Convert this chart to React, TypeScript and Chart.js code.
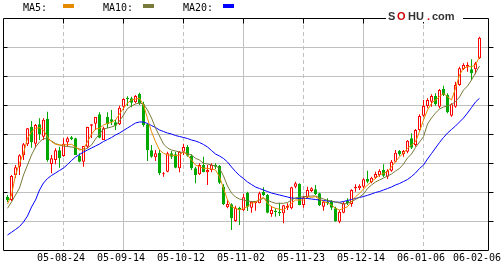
import React, { useEffect, useRef } from "react";
import { Chart, registerables } from "chart.js";

Chart.register(...registerables);

// ---- data (price units; chart shows no numeric axis) ----
const OPEN = [
  5.33, 5.0, 7.5, 8.33, 9.5, 10.57, 12.33, 10.63, 12.57, 11.33,
  13.1, 8.6, 9.0, 9.97, 9.4, 10.77, 11.27, 11.17, 9.4, 8.83,
  10.33, 12.43, 12.63, 13.57, 11.0, 13.3, 13.07, 12.77, 12.57, 14.33,
  15.23, 15.17, 14.77, 15.6, 14.57, 12.57, 9.97, 9.27, 9.73, 7.57,
  7.83, 9.67, 9.57, 8.17, 9.83, 10.3, 9.43, 8.17, 7.57, 8.5,
  7.77, 8.0, 8.5, 8.4, 6.33, 4.27, 4.57, 2.9, 4.23, 3.97,
  5.73, 4.23, 4.67, 4.67, 5.83, 5.5, 3.6, 3.93, 3.83, 3.67,
  4.23, 4.17, 6.33, 6.6, 4.5, 5.27, 5.9, 6.07, 5.67, 4.33,
  4.83, 4.83, 4.17, 2.83, 3.73, 4.9, 4.6, 6.17, 6.17, 6.33,
  7.1, 6.77, 7.23, 7.5, 8.0, 7.33, 7.93, 8.83, 9.9, 9.57,
  9.83, 11.17, 10.5, 12.0, 13.43, 14.4, 14.83, 15.4, 14.33, 16.1,
  15.5, 13.43, 14.33, 16.5, 18.1, 18.33, 18.07, 18.07, 19.17,
];
const CLOSE = [
  5.0, 7.4, 8.27, 9.47, 10.57, 12.17, 10.77, 12.5, 11.57, 13.03,
  9.0, 9.17, 9.97, 9.17, 10.63, 11.17, 11.1, 9.5, 8.83, 10.4,
  12.3, 12.57, 13.3, 11.23, 12.17, 12.57, 12.83, 12.43, 14.23, 15.1,
  15.07, 14.73, 15.4, 14.67, 12.5, 10.0, 9.33, 9.67, 7.67, 7.67,
  9.67, 9.33, 8.23, 9.83, 10.3, 9.43, 8.17, 7.5, 8.5, 7.77,
  8.0, 8.5, 8.33, 6.73, 4.57, 4.6, 3.17, 4.23, 4.0, 5.27,
  4.33, 4.83, 4.9, 5.67, 5.5, 3.73, 4.0, 3.8, 3.67, 4.47,
  4.4, 6.27, 6.67, 4.5, 5.27, 6.0, 6.17, 5.6, 4.5, 4.83,
  4.67, 4.23, 2.9, 3.83, 4.67, 4.67, 6.0, 6.33, 6.43, 7.07,
  6.83, 7.23, 7.6, 7.93, 7.43, 7.93, 8.83, 9.73, 9.57, 9.9,
  10.93, 10.23, 12.0, 13.4, 14.4, 15.0, 15.4, 14.57, 16.0, 15.5,
  13.77, 14.57, 16.5, 18.17, 18.5, 18.5, 17.67, 18.67, 21.23,
];
const HIGH = [
  5.5, 7.5, 8.5, 9.57, 10.7, 12.2, 12.9, 12.6, 13.17, 13.17,
  13.83, 9.5, 10.17, 10.33, 11.17, 11.33, 11.4, 11.23, 9.67, 10.4,
  12.33, 12.57, 13.3, 13.77, 12.33, 13.77, 14.0, 13.0, 14.43, 15.17,
  15.37, 15.33, 15.5, 15.73, 14.83, 12.67, 10.5, 10.0, 10.0, 7.8,
  9.83, 9.9, 9.83, 9.9, 10.63, 10.5, 9.57, 8.33, 8.67, 9.33,
  8.5, 8.67, 8.67, 8.5, 6.57, 5.0, 4.67, 4.43, 4.33, 5.6,
  5.83, 4.9, 4.9, 5.83, 6.27, 5.6, 4.4, 4.17, 4.73, 4.5,
  4.67, 6.33, 6.83, 6.67, 5.4, 6.33, 6.27, 6.5, 5.73, 4.9,
  5.17, 5.0, 4.33, 4.0, 4.8, 5.17, 6.07, 6.57, 6.57, 7.17,
  7.93, 7.33, 7.83, 8.07, 8.57, 8.07, 9.0, 10.0, 10.0, 10.0,
  11.0, 11.67, 12.1, 13.57, 15.0, 15.17, 15.57, 15.67, 16.1, 16.43,
  15.67, 14.67, 16.83, 18.33, 18.67, 18.77, 19.07, 18.83, 21.33,
];
const LOW = [
  4.8, 4.9, 7.2, 7.5, 9.0, 10.4, 10.23, 10.2, 11.0, 11.0,
  8.83, 7.67, 8.57, 8.23, 9.33, 10.33, 11.0, 9.5, 8.77, 8.33,
  10.17, 11.2, 12.0, 11.17, 11.0, 12.17, 12.5, 12.0, 12.5, 14.0,
  14.4, 14.27, 14.67, 14.5, 12.33, 8.9, 9.23, 8.9, 7.5, 7.33,
  7.77, 9.1, 8.17, 7.77, 9.5, 9.33, 8.0, 6.67, 7.5, 7.77,
  6.5, 7.77, 8.1, 6.6, 4.5, 4.17, 2.0, 2.83, 2.5, 3.9,
  3.9, 3.73, 3.93, 4.67, 5.4, 3.67, 3.33, 3.33, 3.4, 2.67,
  4.0, 4.07, 6.17, 4.47, 4.23, 5.17, 5.8, 5.5, 4.4, 3.93,
  4.5, 4.0, 2.83, 2.67, 3.67, 4.5, 4.33, 5.83, 6.0, 6.17,
  6.67, 6.67, 7.1, 7.33, 7.3, 7.1, 7.83, 8.77, 9.43, 9.33,
  9.67, 10.1, 10.33, 11.9, 13.33, 14.17, 14.33, 14.43, 14.17, 15.4,
  13.67, 13.33, 14.23, 16.43, 18.0, 17.83, 17.0, 17.57, 19.1,
];
const MA5 = [
  4.6, 5.5, 7.5, 8.67, 9.67, 11.17, 11.83, 12.17, 12.23, 12.0,
  11.3, 10.83, 10.57, 10.5, 10.5, 10.55, 10.57, 10.3, 10.0, 10.1,
  10.83, 11.57, 12.1, 12.17, 12.5, 12.67, 12.75, 13.0, 13.6, 14.17,
  14.7, 15.0, 15.1, 15.17, 14.5, 13.17, 11.83, 10.83, 10.0, 9.67,
  9.5, 9.5, 9.43, 9.5, 9.83, 9.5, 9.0, 8.5, 8.33, 8.17,
  8.17, 8.1, 8.0, 7.33, 6.17, 5.0, 4.33, 4.17, 4.0, 4.17,
  4.33, 4.67, 4.77, 5.07, 5.27, 4.67, 4.33, 4.17, 4.07, 4.0,
  4.33, 4.67, 5.0, 5.0, 5.0, 5.33, 5.27, 5.33, 5.07, 4.83,
  4.73, 4.5, 4.17, 4.0, 4.17, 4.33, 4.83, 5.33, 5.67, 6.1,
  6.5, 6.83, 7.17, 7.5, 7.67, 7.83, 8.33, 8.83, 9.33, 9.67,
  10.17, 10.5, 10.83, 11.83, 13.0, 14.0, 14.67, 15.0, 15.33, 15.67,
  15.33, 15.0, 16.17, 17.5, 18.17, 18.33, 18.33, 18.5, 19.33,
];
const MA10 = [
  4.17, 4.8, 5.5, 6.2, 7.5, 8.5, 9.5, 10.3, 10.8, 11.15,
  11.1, 10.9, 10.65, 10.5, 10.4, 10.35, 10.3, 10.23, 10.1, 10.0,
  10.2, 10.5, 11.1, 11.6, 12.1, 12.2, 12.3, 12.45, 12.9, 13.5,
  14.15, 14.4, 14.6, 14.7, 14.6, 14.0, 13.2, 12.2, 11.4, 10.6,
  10.2, 10.0, 9.9, 9.8, 9.75, 9.65, 9.5, 9.17, 9.0, 8.67,
  8.6, 8.5, 8.4, 8.17, 7.4, 6.4, 5.7, 5.3, 5.1, 5.0,
  4.9, 4.85, 4.83, 5.0, 5.17, 5.0, 4.8, 4.67, 4.67, 4.67,
  4.75, 5.0, 5.2, 5.3, 5.33, 5.37, 5.4, 5.4, 5.25, 5.1,
  4.97, 4.9, 4.8, 4.7, 4.6, 4.67, 4.85, 5.05, 5.3, 5.6,
  6.15, 6.5, 6.8, 7.0, 7.2, 7.4, 7.6, 7.9, 8.15, 8.6,
  9.2, 9.6, 10.25, 10.8, 11.33, 12.6, 13.2, 13.7, 14.1, 14.3,
  14.4, 14.55, 14.85, 15.3, 16.0, 16.4, 17.0, 17.7, 18.4,
];
const MA20 = [
  1.5, 1.77, 2.05, 2.35, 2.8, 3.4, 4.3, 5.0, 6.0, 6.7,
  7.15, 7.45, 7.7, 7.95, 8.2, 8.55, 8.95, 9.3, 9.55, 9.8,
  10.0, 10.2, 10.4, 10.6, 10.85, 11.05, 11.25, 11.5, 11.7, 11.95,
  12.2, 12.45, 12.7, 12.8, 12.8, 12.65, 12.45, 12.25, 12.0, 11.85,
  11.7, 11.6, 11.45, 11.35, 11.25, 11.15, 11.0, 10.9, 10.75, 10.55,
  10.3, 9.95, 9.6, 9.4, 9.15, 8.8, 8.3, 7.85, 7.45, 7.15,
  6.8, 6.55, 6.3, 6.15, 6.0, 5.85, 5.7, 5.6, 5.5, 5.4,
  5.3, 5.2, 5.17, 5.17, 5.17, 5.15, 5.1, 5.05, 5.0, 4.95,
  4.9, 4.85, 4.8, 4.77, 4.85, 4.95, 5.05, 5.15, 5.25, 5.35,
  5.47, 5.6, 5.75, 5.85, 6.0, 6.15, 6.3, 6.5, 6.65, 6.85,
  7.05, 7.35, 7.7, 8.15, 8.5, 9.1, 9.65, 10.2, 10.75, 11.25,
  11.7, 12.05, 12.4, 12.8, 13.2, 13.7, 14.25, 14.8, 15.17,
];
const TICK_INDEX = [14, 29, 44, 59, 74, 89, 104, 118];
const TICK_LABELS = ["05-08-24", "05-09-14", "05-10-12", "05-11-02", "05-11-23", "05-12-14", "06-01-06", "06-02-06"];
const GRID_INDEX = [14, 29, 44, 59, 74, 89, 104];
const Y_STEP = 2.9;
const Y_MAX = 23.2;

const RED = "#ff0000";
const GREEN = "#00a800";
const C_MA5 = "#e68a00";
const C_MA10 = "#7a7a3a";
const C_MA20 = "#0000ff";
const GRID = "#c0c0c0";
const FONT = "10px 'DejaVu Sans Mono', monospace";

const frame = {
  id: "frame",
  beforeDatasetsDraw(chart: any) {
    const { ctx, chartArea, scales } = chart;
    const { left, right, top, bottom } = chartArea;
    const x = scales.x;
    const y = scales.y;
    ctx.save();
    ctx.lineWidth = 1;
    ctx.strokeStyle = GRID;
    for (let k = 1; k * Y_STEP < Y_MAX - 0.01; k++) {
      const py = Math.round(y.getPixelForValue(k * Y_STEP)) + 0.5;
      ctx.beginPath();
      ctx.moveTo(left, py);
      ctx.lineTo(right, py);
      ctx.stroke();
    }
    GRID_INDEX.forEach((v, k) => {
      const px = Math.floor(x.getPixelForValue(v)) + 0.5;
      ctx.setLineDash(k % 2 === 0 ? [4, 3] : []);
      ctx.beginPath();
      ctx.moveTo(px, top);
      ctx.lineTo(px, bottom);
      ctx.stroke();
    });
    ctx.restore();
  },
  afterDatasetsDraw(chart: any) {
    const { ctx, chartArea, scales } = chart;
    const { left, right, top, bottom } = chartArea;
    const x = scales.x;
    const y = scales.y;
    ctx.save();
    ctx.lineWidth = 1;
    ctx.strokeStyle = "#000";
    const L = left + 0.5, R = right - 0.5, T = top + 0.5, B = bottom + 0.5;
    ctx.beginPath();
    ctx.moveTo(L, T); ctx.lineTo(R, T); ctx.lineTo(R, B); ctx.lineTo(L, B); ctx.closePath();
    ctx.stroke();
    ctx.beginPath();
    for (let k = 1; k * Y_STEP < Y_MAX - 0.01; k++) {
      const py = Math.round(y.getPixelForValue(k * Y_STEP)) + 0.5;
      ctx.moveTo(L, py); ctx.lineTo(L + 4, py);
      ctx.moveTo(R, py); ctx.lineTo(R + 5, py);
    }
    GRID_INDEX.forEach((v) => {
      const px = Math.floor(x.getPixelForValue(v)) + 0.5;
      ctx.moveTo(px, T); ctx.lineTo(px, T + 5);
    });
    ctx.stroke();
    ctx.restore();
  },
  afterDraw(chart: any) {
    const { ctx } = chart;
    ctx.save();
    ctx.font = FONT;
    ctx.textBaseline = "alphabetic";
    ctx.textAlign = "left";
    const items: [string, string][] = [["MA5:", C_MA5], ["MA10:", C_MA10], ["MA20:", C_MA20]];
    items.forEach(([t, c], k) => {
      const x0 = 23 + 80 * k;
      ctx.fillStyle = "#000";
      ctx.fillText(t, x0, 11);
      ctx.fillStyle = c;
      ctx.fillRect(63 + 80 * k, 4, 11, 4);
    });
    ctx.fillStyle = "#fff";
    ctx.fillRect(386, 9, 77, 13);
    ctx.font = "bold 11px 'Liberation Sans', Arial, sans-serif";
    const parts: [string, string, number][] = [["S", "#333", 388], ["O", "#d00000", 397], ["HU", "#333", 408], [".", "#d00000", 427], ["com", "#333", 432]];
    parts.forEach(([t, c, px]) => {
      ctx.fillStyle = c;
      ctx.fillText(t, px, 20);
    });
    ctx.restore();
  },
};

export default function App() {
  const ref = useRef<HTMLCanvasElement | null>(null);
  useEffect(() => {
    if (!ref.current) return;
    const idx = OPEN.map((_, i) => i);
    const up = idx.map((i) => CLOSE[i] >= OPEN[i]);
    const chart = new Chart(ref.current, {
      type: "bar",
      data: {
        datasets: [
          { type: "line", label: "MA5", data: idx.map((i) => ({ x: i, y: MA5[i] })), borderColor: C_MA5, borderWidth: 1, pointRadius: 0, tension: 0, order: 0 } as any,
          { type: "line", label: "MA10", data: idx.map((i) => ({ x: i, y: MA10[i] })), borderColor: C_MA10, borderWidth: 1, pointRadius: 0, tension: 0, order: 0 } as any,
          { type: "line", label: "MA20", data: idx.map((i) => ({ x: i, y: MA20[i] })), borderColor: C_MA20, borderWidth: 1, pointRadius: 0, tension: 0, order: 0 } as any,
          {
            label: "body",
            data: idx.map((i) => ({ x: i, y: [OPEN[i], CLOSE[i]] })),
            backgroundColor: idx.map((i) => (up[i] ? "#ffffff" : GREEN)),
            borderColor: idx.map((i) => (up[i] ? RED : GREEN)),
            borderWidth: 1,
            borderSkipped: false,
            barThickness: 3,
            minBarLength: 1,
            grouped: false,
            inflateAmount: 0,
            order: 1,
          } as any,
          {
            label: "wick",
            data: idx.map((i) => ({ x: i, y: [LOW[i], HIGH[i]] })),
            backgroundColor: idx.map((i) => (up[i] ? RED : GREEN)),
            borderWidth: 0,
            barThickness: 1,
            grouped: false,
            inflateAmount: 0,
            order: 2,
          } as any,
        ],
      },
      options: {
        animation: false,
        responsive: false,
        devicePixelRatio: 1,
        events: [],
        layout: { padding: { top: 18, left: 0, right: 0, bottom: 0 } },
        plugins: { legend: { display: false }, tooltip: { enabled: false } },
        scales: {
          x: {
            type: "linear",
            position: "bottom",
            offset: false,
            min: -1.125,
            max: 120.375,
            grid: { display: false, drawTicks: false },
            border: { display: false },
            afterBuildTicks: (s: any) => {
              s.ticks = TICK_INDEX.map((v) => ({ value: v }));
            },
            afterFit: (s: any) => {
              s.height = 17;
              s.paddingLeft = 0;
              s.paddingRight = 0;
            },
            ticks: {
              autoSkip: false,
              maxRotation: 0,
              minRotation: 0,
              padding: 2,
              labelOffset: -2.5,
              color: "#000",
              font: { family: "'DejaVu Sans Mono', monospace", size: 10 },
              callback: (_v: any, i: number) => TICK_LABELS[i],
            },
          },
          y: {
            type: "linear",
            position: "left",
            min: 0,
            max: Y_MAX,
            grid: { display: false },
            border: { display: false },
            ticks: { display: false, stepSize: Y_STEP },
            afterFit: (s: any) => { s.width = 3; },
          },
          y2: {
            type: "linear",
            position: "right",
            min: 0,
            max: Y_MAX,
            grid: { display: false },
            border: { display: false },
            ticks: { display: false },
            afterFit: (s: any) => { s.width = 15; },
          },
        },
      } as any,
      plugins: [frame],
    });
    return () => chart.destroy();
  }, []);
  return (
    <div style={{ position: "fixed", left: 0, top: 0, width: 504, height: 267, background: "#fff" }}>
      <canvas ref={ref} width={504} height={267} style={{ display: "block", width: 504, height: 267 }} />
    </div>
  );
}
